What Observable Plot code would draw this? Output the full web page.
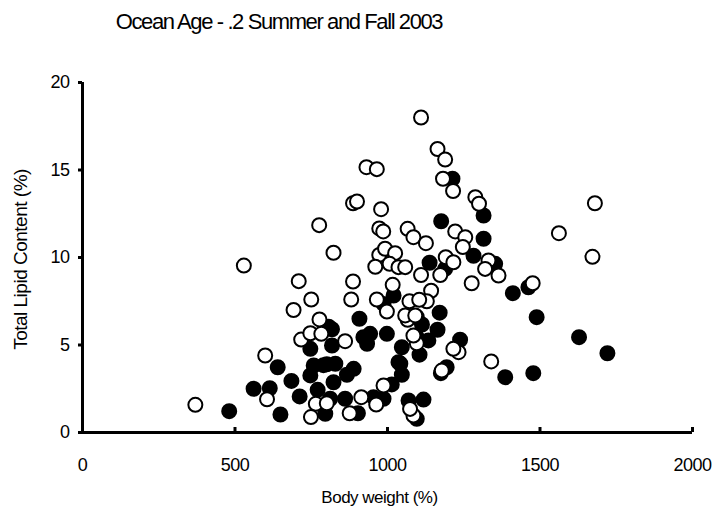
<!DOCTYPE html>
<html>
<head>
<meta charset="utf-8">
<script src="https://cdn.jsdelivr.net/npm/d3@7"></script>
<script src="https://cdn.jsdelivr.net/npm/@observablehq/plot@0.6"></script>
<style>
  html, body { margin: 0; padding: 0; background: #fff; }
  #wrap { width: 717px; height: 521px; position: relative; font-family: "Liberation Sans", Arial, sans-serif; }
  #title { height: 50px; width: 717px; position: relative; color: #000; }
  #title span { position: absolute; left: 279px; top: 9px; transform: translateX(-50%); white-space: nowrap; font-size: 22px; letter-spacing: -1.4px; }
</style>
</head>
<body>
<div id="wrap">
  <div id="title"><span id="titleText"></span></div>
  <div id="chart"></div>
</div>
<script>
const titleText = "Ocean Age - .2 Summer and Fall 2003";
const xLabel = "Body weight (%)";
const yLabel = "Total Lipid Content (%)";
const xTicks = [0, 500, 1000, 1500, 2000];
const yTicks = [0, 5, 10, 15, 20];

// Filled circles: [body weight, lipid %]
const filledX = [481, 561, 614, 640, 649, 685, 712, 747, 758, 747, 771, 790, 807, 818, 829, 823, 796, 867, 889, 861, 903, 908, 943, 921, 998, 933, 954, 987, 1014, 1020, 987, 1047, 1036, 1042, 1047, 1069, 1118, 1096, 1096, 1134, 1105, 1113, 1164, 1171, 1096, 1138, 1189, 1176, 1213, 1315, 1315, 1282, 1353, 1411, 1462, 1489, 1628, 1721, 1386, 1478, 1238, 1175, 1194, 812, 801, 818];
const filledY = [1.22, 2.5, 2.53, 3.73, 1.03, 2.95, 2.06, 4.78, 3.83, 3.26, 2.44, 3.85, 6.05, 4.97, 3.93, 2.87, 1.07, 3.3, 3.64, 1.93, 1.1, 6.5, 5.64, 5.45, 5.64, 5.07, 2.02, 1.93, 2.75, 7.83, 7.35, 4.87, 4.02, 3.93, 3.3, 1.83, 1.88, 0.78, 5.45, 5.26, 4.45, 6.17, 5.87, 6.85, 6.6, 9.7, 9.35, 12.07, 14.5, 12.4, 11.07, 10.1, 9.64, 7.96, 8.3, 6.59, 5.45, 4.53, 3.16, 3.39, 5.3, 3.39, 3.73, 1.93, 3.9, 5.9];

// Open circles: [body weight, lipid %]
const openX = [370, 529, 599, 605, 692, 709, 717, 750, 747, 783, 777, 776, 823, 887, 900, 931, 965, 979, 973, 986, 973, 992, 1025, 1007, 960, 1036, 1058, 887, 881, 965, 1017, 998, 861, 765, 801, 749, 876, 914, 963, 987, 1110, 1164, 1189, 1182, 1215, 1288, 1300, 1222, 1255, 1247, 1066, 1085, 1126, 1680, 1562, 1672, 1191, 1216, 1110, 1173, 1276, 1331, 1364, 1320, 1476, 1340, 1143, 1129, 1072, 1104, 1066, 1058, 1091, 1096, 1085, 1233, 1216, 1178, 1085, 1074];
const openY = [1.58, 9.54, 4.4, 1.9, 7.0, 8.65, 5.31, 7.6, 5.67, 5.64, 6.46, 11.85, 10.27, 13.1, 13.2, 15.16, 15.05, 12.76, 11.66, 11.49, 10.15, 10.5, 10.25, 9.64, 9.47, 9.45, 9.45, 8.63, 7.6, 7.6, 8.44, 6.91, 5.22, 1.64, 1.67, 0.88, 1.1, 2.02, 1.6, 2.69, 18.0, 16.2, 15.6, 14.5, 13.8, 13.45, 13.07, 11.49, 11.16, 10.6, 11.64, 11.16, 10.82, 13.1, 11.39, 10.04, 10.02, 9.73, 9.0, 9.0, 8.53, 9.83, 8.97, 9.35, 8.53, 4.06, 8.1, 7.5, 7.5, 7.58, 6.44, 6.69, 6.69, 5.1, 5.54, 4.59, 4.78, 3.54, 0.97, 1.35];

const filled = filledX.map((x, i) => ({x, y: filledY[i]}));
const open = openX.map((x, i) => ({x, y: openY[i]}));

document.getElementById("titleText").textContent = titleText;

const font = "Liberation Sans, Arial, sans-serif";

const chart = Plot.plot({
  width: 717,
  height: 471,
  marginTop: 32,
  marginBottom: 89,
  marginLeft: 82,
  marginRight: 25,
  style: {fontFamily: font, fontSize: "18px", color: "#000", background: "#fff", letterSpacing: "-0.5px"},
  x: {domain: [0, 2000]},
  y: {domain: [0, 20]},
  marks: [
    Plot.dot(filled, {x: "x", y: "y", r: 7, fill: "#000", stroke: "#000", strokeWidth: 2}),
    Plot.dot(open, {x: "x", y: "y", r: 7, fill: "#fff", stroke: "#000", strokeWidth: 2}),
    Plot.ruleX([0], {stroke: "#000", strokeWidth: 3}),
    Plot.ruleY([0], {stroke: "#000", strokeWidth: 3}),
    Plot.axisX({ticks: xTicks, tickSize: 5, dy: -5, tickFormat: () => "", strokeWidth: 3, label: null}),
    Plot.axisX({ticks: xTicks, tickSize: 0, tickPadding: 26, tickFormat: d => String(d), label: null, fontSize: 18}),
    Plot.axisY({ticks: yTicks, tickSize: 4, tickPadding: 9, strokeWidth: 3, tickFormat: d => String(d), label: null, fontSize: 18}),
    Plot.text([xLabel], {frameAnchor: "bottom", textAnchor: "middle", dy: 70, dx: -8, text: d => d, fontSize: 17, fill: "#000"}),
    Plot.text([yLabel], {frameAnchor: "left", textAnchor: "middle", dx: -62, dy: 2, rotate: -90, text: d => d, fontSize: 19, fill: "#000", style: "letter-spacing:-0.3px"})
  ]
});
document.getElementById("chart").appendChild(chart);
</script>
</body>
</html>
